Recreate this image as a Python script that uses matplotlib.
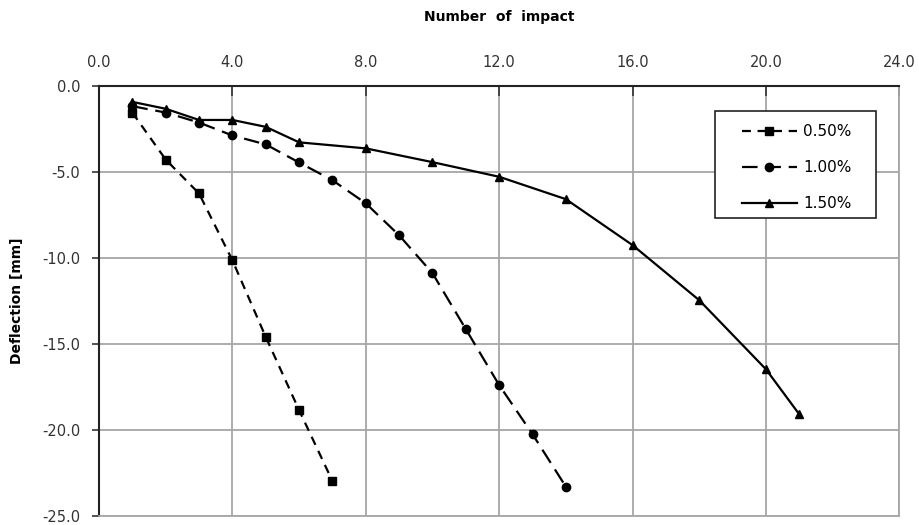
import matplotlib
matplotlib.use("Agg")
import matplotlib.pyplot as plt
from matplotlib.patches import Rectangle

# *
# Data
# *
x_050 = [1, 2, 3, 4, 5, 6, 7]
y_050 = [-1.57, -4.3, -6.27, -10.15, -14.6, -18.85, -22.97]

x_100 = [1, 2, 3, 4, 5, 6, 7, 8, 9, 10, 11, 12, 13, 14]
y_100 = [-1.2, -1.57, -2.15, -2.9, -3.42, -4.47, -5.5, -6.84, -8.7, -10.9, -14.15, -17.4, -20.25, -23.3]

x_150 = [1, 2, 3, 4, 5, 6, 8, 10, 12, 14, 16, 18, 20, 21]
y_150 = [-0.95, -1.35, -2.0, -2.0, -2.4, -3.3, -3.65, -4.45, -5.3, -6.6, -9.27, -12.47, -16.48, -19.1]

labels = ["0.50%", "1.00%", "1.50%"]
xticks = [0, 4, 8, 12, 16, 20, 24]
yticks = [0, -5, -10, -15, -20, -25]

plt.rcParams['font.family'] = ['DejaVu Sans']

fig = plt.figure(figsize=(9.2, 5.25), dpi=100)
ax = fig.add_axes([0.1076, 0.0171, 0.8700, 0.8200])

ax.plot(x_050, y_050, color='black', lw=1.6, dashes=(4, 3), marker='s', ms=6, label=labels[0])
ax.plot(x_100, y_100, color='black', lw=1.6, dashes=(7, 3.5), marker='o', ms=6, label=labels[1])
ax.plot(x_150, y_150, color='black', lw=1.6, marker='^', ms=6, label=labels[2])

ax.set_xlim(0, 24)
ax.set_ylim(-25, 0)
ax.set_xticks(xticks)
ax.set_yticks(yticks)
ax.set_xticklabels(["{:.1f}".format(v) for v in xticks])
ax.set_yticklabels(["{:.1f}".format(v) for v in yticks])

ax.xaxis.tick_top()
ax.xaxis.set_label_position('top')
ax.tick_params(axis='x', direction='in', length=7, width=1.2, color='#333333',
               labelsize=10.5, labelcolor='#333333', pad=11)
ax.tick_params(axis='y', direction='out', length=5, width=1.2, color='#333333',
               labelsize=10.5, labelcolor='#333333', pad=8.5)

ax.grid(True, color='#a6a6a6', lw=1.3)
ax.set_axisbelow(True)

for side in ['bottom', 'right']:
    ax.spines[side].set_color('#a6a6a6')
    ax.spines[side].set_linewidth(1.3)
for side in ['top', 'left']:
    ax.spines[side].set_color('#222222')
    ax.spines[side].set_linewidth(1.5)

ax.set_xlabel("Number  of  impact", fontsize=10, fontweight='bold', labelpad=25)
ax.set_ylabel("Deflection [mm]", fontsize=10, fontweight='bold', labelpad=13)

# legend box drawn separately so its padding can match the reference
ax.add_patch(Rectangle((0.770, 0.692), 0.201, 0.249, transform=ax.transAxes,
                       facecolor='white', edgecolor='#222222', lw=1.2, zorder=4))
leg = ax.legend(loc='upper left', bbox_to_anchor=(0.803, 0.910), fontsize=11,
                frameon=False, handlelength=3.6, borderpad=0, labelspacing=1.38,
                handletextpad=0.4, borderaxespad=0)
leg.set_zorder(5)

fig.savefig("out.png", dpi=100)
